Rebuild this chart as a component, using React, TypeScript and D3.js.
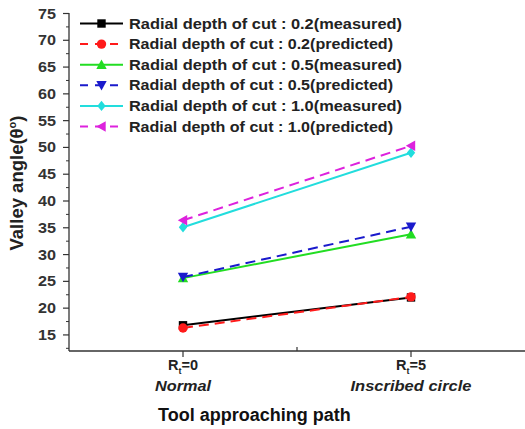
import React from "react";
import * as d3 from "d3";

const categories = [1, 2];
const xTickLabels = ["0", "5"];
const xSubLabels = ["Normal", "Inscribed circle"];
const xSubLengths = [56, 121];
const yTicks = [15, 20, 25, 30, 35, 40, 45, 50, 55, 60, 65, 70, 75];

const seriesNames = [
  "Radial depth of cut : 0.2(measured)",
  "Radial depth of cut : 0.2(predicted)",
  "Radial depth of cut : 0.5(measured)",
  "Radial depth of cut : 0.5(predicted)",
  "Radial depth of cut : 1.0(measured)",
  "Radial depth of cut : 1.0(predicted)",
];
const legendLengths = [273, 264, 273, 264, 273, 264];
const s02m = [16.8, 22.0];
const s02p = [16.3, 22.1];
const s05m = [25.6, 33.8];
const s05p = [25.8, 35.2];
const s10m = [35.1, 49.0];
const s10p = [36.4, 50.3];
const seriesValues = [s02m, s02p, s05m, s05p, s10m, s10p];
const colors = ["#000000", "#ff1a1a", "#22dd22", "#1a1acc", "#22dddd", "#dd22dd"];
const dashed = [false, true, false, true, false, true];
const markers = ["square", "circle", "triangle", "triangleDown", "diamond", "triangleLeft"];

const FONT = "'Liberation Sans', Arial, sans-serif";

function Marker({ type, x, y, color }: { type: string; x: number; y: number; color: string }) {
  const s = 4.2;
  if (type === "square") return <rect x={x - s} y={y - s} width={2 * s} height={2 * s} fill={color} />;
  if (type === "circle") return <circle cx={x} cy={y} r={s + 0.5} fill={color} />;
  let pts: number[][] = [];
  if (type === "triangle") pts = [[x, y - s - 1], [x + s + 1, y + s], [x - s - 1, y + s]];
  if (type === "triangleDown") pts = [[x, y + s + 1], [x + s + 1, y - s], [x - s - 1, y - s]];
  if (type === "triangleLeft") pts = [[x - s - 1, y], [x + s, y - s - 1], [x + s, y + s + 1]];
  if (type === "diamond") pts = [[x, y - s - 1], [x + s, y], [x, y + s + 1], [x - s, y]];
  return <polygon points={pts.map((p) => p.join(",")).join(" ")} fill={color} />;
}

export default function App() {
  const W = 525, H = 429;
  const x = d3.scaleLinear().domain([0.5, 2.5]).range([69, 525]);
  const y = d3.scaleLinear().domain([12, 75]).range([351, 13.5]);
  const minorTicks = d3.range(12.5, 75, 2.5).filter((v) => v % 5 !== 0);
  const line = d3.line<number>().x((_, i) => x(categories[i])).y((d) => y(d));
  const legendY0 = 23.5, legendDy = 20.6;

  return (
    <svg width={W} height={H} style={{ position: "absolute", left: 0, top: 0, background: "#fff" }}>
      <rect width={W} height={H} fill="#fff" />
      {/* axes */}
      <line x1={69} x2={69} y1={13} y2={351} stroke="#333" strokeWidth={1.3} />
      <line x1={69} x2={525} y1={351} y2={351} stroke="#333" strokeWidth={1.5} />
      {yTicks.map((t) => (
        <g key={t}>
          <line x1={63} x2={69} y1={y(t)} y2={y(t)} stroke="#333" strokeWidth={1.2} />
          <text x={56} y={y(t) + 5} textAnchor="end" fontFamily={FONT} fontWeight="bold" fontSize={15} fill="#333"
            textLength={18} lengthAdjust="spacingAndGlyphs">
            {t}
          </text>
        </g>
      ))}
      {minorTicks.map((t) => (
        <line key={t} x1={66} x2={69} y1={y(t)} y2={y(t)} stroke="#333" strokeWidth={1} />
      ))}
      {[1, 1.5, 2].map((t) => (
        <line key={t} x1={x(t)} x2={x(t)} y1={351} y2={t === 1.5 ? 347 : 357} stroke="#333" strokeWidth={1.2} />
      ))}
      {categories.map((c, i) => (
        <g key={c}>
          <text x={x(c)} y={370} textAnchor="middle" fontFamily={FONT} fontWeight="bold" fontSize={14.5} fill="#222">
            <tspan>R</tspan>
            <tspan fontSize={9} dy={4}>t</tspan>
            <tspan dy={-4}>={xTickLabels[i]}</tspan>
          </text>
          <text x={x(c)} y={391} textAnchor="middle" fontFamily={FONT} fontWeight="bold" fontStyle="italic" fontSize={15} fill="#222"
            textLength={xSubLengths[i]} lengthAdjust="spacingAndGlyphs">
            {xSubLabels[i]}
          </text>
        </g>
      ))}
      <text x={158} y={421} fontFamily={FONT} fontWeight="bold" fontSize={18} fill="#111">
        Tool approaching path
      </text>
      <text transform={`translate(23,183) rotate(-90)`} textAnchor="middle" fontFamily={FONT} fontWeight="bold" fontSize={18.5} fill="#222">
        Valley angle(θ<tspan fontSize={11} dy={-7}>o</tspan><tspan dy={7}>)</tspan>
      </text>
      {/* series */}
      {seriesValues.map((vals, si) => (
        <g key={si}>
          <path d={line(vals) || ""} fill="none" stroke={colors[si]} strokeWidth={2}
            strokeDasharray={dashed[si] ? "10,6" : undefined} />
          {vals.map((v, i) => (
            <Marker key={i} type={markers[si]} x={x(categories[i])} y={y(v)} color={colors[si]} />
          ))}
        </g>
      ))}
      {/* legend */}
      {seriesNames.map((name, si) => {
        const ly = legendY0 + si * legendDy;
        return (
          <g key={name}>
            <line x1={80} x2={123} y1={ly} y2={ly} stroke={colors[si]} strokeWidth={2}
              strokeDasharray={dashed[si] ? "8,7" : undefined} />
            <Marker type={markers[si]} x={101.5} y={ly} color={colors[si]} />
            <text x={129} y={ly + 5} fontFamily={FONT} fontWeight="bold" fontSize={14.5} fill="#222"
              textLength={legendLengths[si]} lengthAdjust="spacingAndGlyphs">
              {name}
            </text>
          </g>
        );
      })}
    </svg>
  );
}
